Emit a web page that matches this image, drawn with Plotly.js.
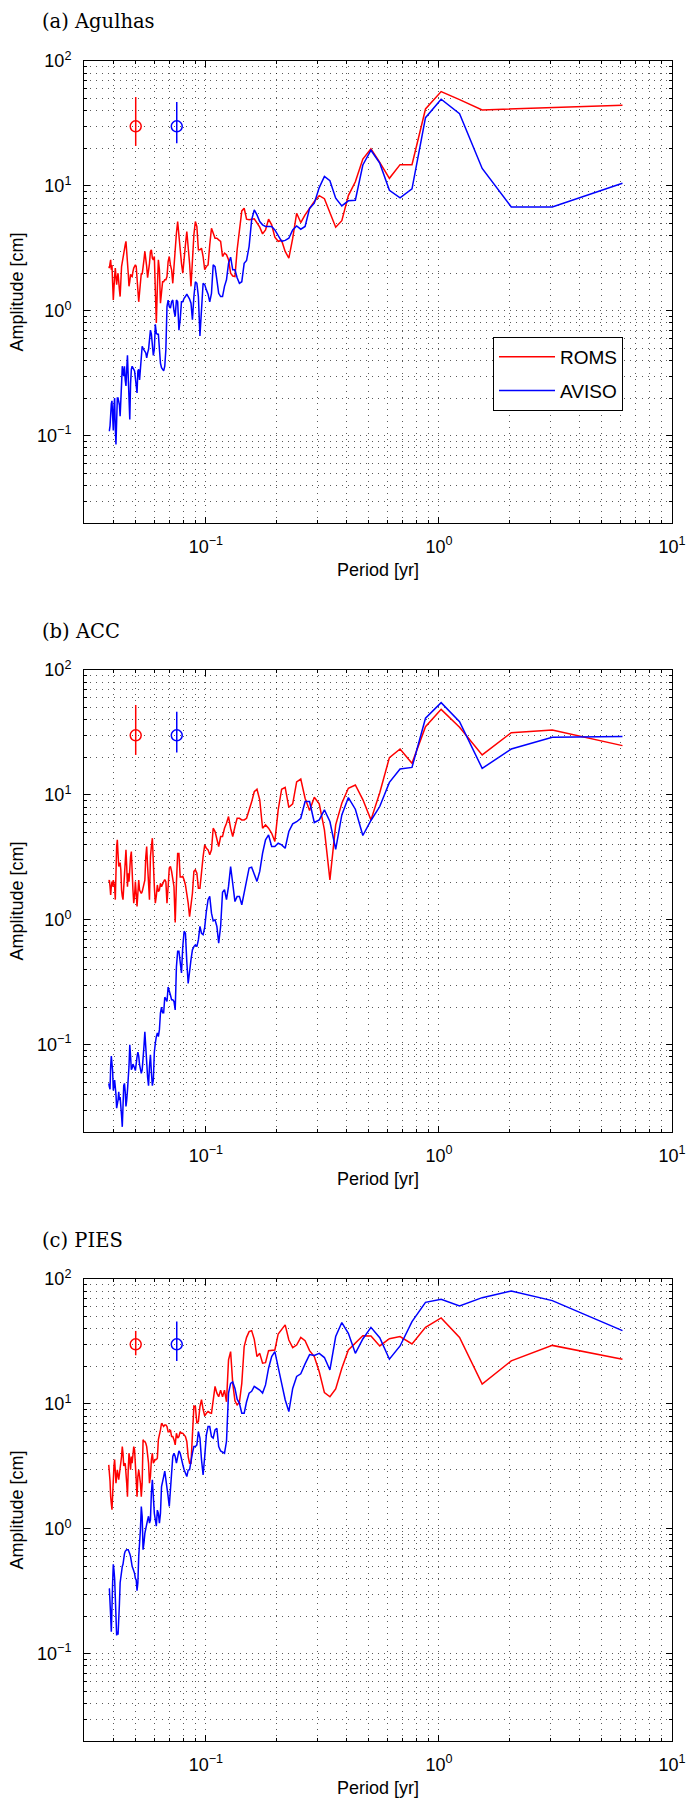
<!DOCTYPE html>
<html><head><meta charset="utf-8">
<script src="https://cdn.plot.ly/plotly-3.0.1.min.js"></script>
<style>body{margin:0;background:#fff}#chart{width:696px;height:1803px}</style>
</head><body><div id="chart"></div>
<script>
// Period [yr] of each spectral estimate
const periods = [6.13,3.065,2.043,1.533,1.226,1.022,0.8757,0.7663,0.6811,0.613,
0.5573,0.5108,0.4715,0.4379,0.4087,0.3831,0.3606,0.3406,0.3226,0.3065,
0.2919,0.2786,0.2665,0.2554,0.2452,0.2358,0.227,0.2189,0.2114,0.2043,
0.1977,0.1916,0.1858,0.1803,0.1751,0.1703,0.1657,0.1613,0.1572,0.1533,
0.1495,0.146,0.1426,0.1393,0.1362,0.1333,0.1304,0.1277,0.1251,0.1226,
0.1202,0.1179,0.1157,0.1135,0.1115,0.1095,0.1075,0.1057,0.1039,0.1022,
0.1005,0.09887,0.0973,0.09578,0.09431,0.09288,0.09149,0.09015,0.08884,0.08757,
0.08634,0.08514,0.08397,0.08284,0.08173,0.08066,0.07961,0.07859,0.07759,0.07663,
0.07568,0.07476,0.07386,0.07298,0.07212,0.07128,0.07046,0.06966,0.06888,0.06811,
0.06736,0.06663,0.06591,0.06521,0.06453,0.06385,0.0632,0.06255,0.06192,0.0613,
0.06069,0.0601,0.05951,0.05894,0.05838,0.05783,0.05729,0.05676,0.05624,0.05573,
0.05523,0.05473,0.05425,0.05377,0.0533,0.05284,0.05239,0.05195,0.05151,0.05108,
0.05066,0.05025,0.04984,0.04944,0.04904,0.04865,0.04827,0.04789,0.04752,0.04715,
0.04679,0.04644,0.04609,0.04575,0.04541,0.04507,0.04474,0.04442,0.0441,0.04379,
0.04348,0.04317,0.04287,0.04257,0.04228,0.04199,0.0417,0.04142,0.04114,0.04087,
0.0406,0.04033,0.04007,0.03981,0.03955,0.03929,0.03904,0.0388,0.03855,0.03831];

// (a) Agulhas
const agulhasROMS = [44.2,42.4,41.3,40.6,49,56.9,41.3,14.8,14.8,11.5,15.4,19.8,16.4,10.8,8.36,5.27,4.67,6.23,7.9,8.36,7.5,6.6,5.86,5.09,
6.04,3.8,2.64,2.99,3.66,3.6,3.88,4.88,5.41,4.44,4.13,4.67,5.02,5.45,5.41,5.35,5.41,6.62,6.31,4.44,3.08,1.88,1.9,2.0,2.56,2.81,
2.9,2.72,3.6,3.7,3.81,3.81,4.18,4.58,3.37,2.33,2.26,2.13,2.72,3.17,3.08,3.08,4.73,5.19,4.06,2.26,1.57,2.4,3.08,4.31,3.37,2.48,2.0,2.4,3.08,4.18,
5.19,4.18,3.08,1.88,1.66,2.13,2.33,2.72,2.48,1.88,1.77,1.77,1.71,1.71,1.47,1.15,2.13,2.56,1.52,0.8,1.47,2.72,2.56,2.64,3.08,2.99,2.4,2.13,1.84,2.26,
2.72,2.99,2.56,2.13,1.96,2.0,1.66,1.3,1.18,1.47,1.88,2.26,2.33,2.26,2.2,2.06,1.88,1.9,1.96,1.71,1.57,2.0,2.56,2.9,3.6,3.37,3.08,2.99,2.81,2.48,
2.26,1.71,1.3,1.47,1.84,2.0,1.84,1.62,1.88,2.2,1.88,1.47,1.22,1.66,2.33,2.13,2.56,2.4,2.2,2.26];
const agulhasAVISO = [10.5,6.79,6.79,13.8,37.9,49.4,35.2,9.46,8.02,9.23,15.2,19.3,14.7,7.68,7.6,6.92,7.97,11.0,11.9,9.69,7.27,6.6,4.73,
4.5,4.78,4.44,3.81,3.66,3.6,3.98,4.44,4.73,4.73,4.73,4.88,5.19,5.86,6.42,5.35,3.28,2.53,2.4,1.71,1.66,1.84,2.13,2.13,2.69,2.4,1.77,
1.57,1.3,1.3,1.38,1.77,2.26,2.33,1.38,1.18,1.36,1.47,1.62,1.66,1.08,0.63,1.3,1.66,1.71,1.3,0.85,1.15,1.24,1.3,1.36,1.3,1.26,1.18,1.18,0.85,0.7,
1.18,1.22,0.9,1.0,1.22,1.18,1.05,1.08,1.22,1.08,0.49,0.36,0.33,0.34,0.35,0.38,0.55,0.65,0.65,0.66,0.78,0.49,0.44,0.55,0.65,0.7,0.55,0.49,0.46,0.42,
0.46,0.47,0.49,0.5,0.52,0.4,0.34,0.28,0.34,0.33,0.22,0.26,0.29,0.33,0.34,0.35,0.36,0.34,0.26,0.135,0.22,0.38,0.44,0.34,0.25,0.28,0.36,0.3,0.34,0.36,
0.26,0.185,0.143,0.176,0.2,0.2,0.2,0.135,0.085,0.115,0.2,0.17,0.11,0.143,0.19,0.18,0.13,0.12,0.11,0.11];

// (b) ACC
const accROMS = [24.8,33.1,31.5,20.9,34.8,48.4,35.2,17.9,23.3,19.9,10.4,6.31,9.18,12.0,11.3,8.58,5.75,2.09,5.25,8.47,9.57,7.49,9.4,13.4,
12.7,8.47,7.96,11.5,11.1,7.59,4.24,4.93,5.41,5.75,5.41,9.12,11.1,10.6,8.8,7.59,6.5,6.3,6.3,6.5,6.5,5.58,4.64,5.41,6.71,5.93,
5.41,4.64,4.64,3.86,4.37,5.08,5.41,3.63,3.31,3.63,3.74,3.98,3.2,2.51,1.79,1.79,2.36,2.51,2.44,1.63,1.28,1.06,1.36,1.68,1.9,2.08,2.23,2.2,2.2,3.4,
3.4,1.96,0.95,1.84,2.2,2.44,2.67,2.6,1.84,1.36,2.02,2.1,2.02,1.9,1.84,1.96,1.73,1.68,1.9,1.55,1.36,1.84,2.67,4.5,3.86,3.2,1.45,1.84,2.67,3.86,
3.2,2.08,1.9,1.73,1.68,1.63,1.68,1.73,2.08,1.55,1.28,1.63,2.02,1.55,1.36,1.73,2.36,3.52,3.2,2.08,2.02,2.36,1.84,2.67,3.63,2.87,2.08,1.58,1.45,1.55,
1.73,2.51,2.87,2.75,2.67,3.4,4.37,3.86,1.96,1.45,1.84,2.02,2.08,1.84,2.02,1.84,1.58,1.84,2.08,2.02];
const accAVISO = [29.3,28.9,23.3,16.3,38.6,54.8,41.1,16.6,16.1,12.6,8.07,6.24,4.73,7.68,9.52,6.92,3.67,6.12,7.59,6.31,6.01,8.85,8.85,6.5,
6.1,5.86,5.09,3.74,3.98,4.1,3.86,3.86,4.78,4.37,3.41,2.44,2.03,2.36,2.64,2.6,2.09,1.66,1.32,1.54,1.54,1.4,2.09,2.67,1.85,1.45,
1.74,1.66,0.885,0.65,0.885,1.0,0.98,1.13,1.54,1.45,1.17,0.87,0.76,0.78,0.885,0.69,0.61,0.63,0.61,0.575,0.48,0.4,0.31,0.46,0.78,0.81,0.61,0.375,0.46,0.56,
0.56,0.42,0.19,0.222,0.229,0.229,0.25,0.275,0.29,0.222,0.229,0.24,0.18,0.18,0.2,0.18,0.132,0.116,0.124,0.116,0.103,0.087,0.052,0.047,0.06,0.083,0.067,0.047,0.055,0.071,
0.103,0.127,0.097,0.076,0.063,0.059,0.063,0.069,0.081,0.087,0.08,0.067,0.062,0.065,0.069,0.07,0.065,0.063,0.081,0.1,0.067,0.048,0.043,0.036,0.032,0.042,0.049,0.047,0.029,0.022,
0.027,0.034,0.038,0.036,0.042,0.036,0.033,0.031,0.04,0.049,0.052,0.047,0.043,0.061,0.08,0.081,0.067,0.044,0.046,0.049];

// (c) PIES
const piesROMS = [22.8,29.4,22.1,14.4,34.1,48.8,41.0,30.2,34.6,33.3,29.1,35.0,35.2,30.6,27.0,19.3,13.2,11.4,12.3,18.1,23.9,26.7,32.1,34.1,
29.6,28.2,32.5,42.9,39.1,36.3,27.0,27.0,26.7,21.4,21.2,25.4,23.9,32.9,38.6,37.9,34.1,28.8,14.6,10.3,9.8,10.6,14.6,26.2,22.5,10.4,
12.9,11.4,12.9,11.4,12.2,13.8,10.1,8.42,8.5,8.69,8.42,8.02,9.06,10.8,9.52,7.23,7.0,9.52,9.6,6.19,3.35,3.35,3.79,5.0,5.48,5.65,5.82,5.82,5.99,5.48,
5.33,5.82,4.7,5.17,5.48,5.48,6.19,5.99,5.99,6.59,6.79,6.79,6.59,6.79,7.0,6.19,5.48,5.17,3.68,3.58,3.58,3.4,3.35,4.03,3.58,2.62,2.32,3.35,4.29,4.55,
4.84,5.0,5.0,5.17,2.32,1.81,2.32,2.62,2.97,2.62,1.81,2.47,3.35,4.29,4.55,3.79,3.35,3.79,2.97,3.58,4.03,2.97,1.81,2.32,2.97,3.35,3.27,3.18,4.03,4.55,
3.79,3.4,3.0,2.85,2.47,2.7,2.97,2.6,2.32,2.9,3.58,3.18,2.4,1.6,1.42,1.6,1.81,2.4,3.0,3.25];
const piesAVISO = [38.6,67.1,80.2,70.9,60.8,68.8,65.0,45.6,29.1,22.8,33.9,41.0,33.1,25.4,36.7,44.8,34.6,18.7,23.5,25.4,24.4,24.8,20.9,17.4,
16.6,13.3,8.69,10.8,14.6,19.9,26.2,23.9,19.3,14.2,12.2,12.9,13.3,13.8,12.6,12.2,10.4,8.42,8.42,10.1,10.9,13.3,15.0,14.6,12.2,5.0,
4.03,4.1,4.2,4.55,6.38,6.19,5.33,5.48,6.59,6.59,5.65,3.79,2.7,3.58,5.33,5.99,4.7,4.55,4.55,4.03,3.35,2.97,2.95,2.62,2.8,2.97,3.27,3.68,4.03,4.2,
3.79,3.35,3.79,4.03,3.79,2.76,2.05,1.51,1.81,2.18,2.32,2.9,2.62,2.32,2.18,1.33,1.11,1.33,1.41,1.05,1.18,1.33,1.81,2.47,1.94,1.18,1.11,1.26,1.18,1.08,
1.02,0.92,0.77,0.68,1.26,1.51,0.99,0.77,0.6,0.37,0.32,0.39,0.40,0.44,0.47,0.48,0.5,
0.58,0.6,0.63,0.66,0.68,0.68,0.68,0.67,0.66,0.63,0.56,0.52,0.5,0.46,0.42,0.37,0.25,0.17,0.142,0.15,0.14,0.2,0.33,0.40,0.47,0.52,0.37,0.2,0.15,0.2,0.31,0.33,0.33];

// Error-bar markers (periods, central value, upper/lower extents)
const errPeriods = [0.05, 0.075];
const errCenter = [30, 30];
const agulhasErrUp = [21.5, 17];
const agulhasErrDown = [9.1, 8];
const accErrUp = [22.5, 16.4];
const accErrDown = [9.1, 8.1];
const piesErrUp = [8.4, 15.6];
const piesErrDown = [5.5, 7.9];

const panelTitles = ['(a) Agulhas', '(b) ACC', '(c) PIES'];
const seriesNames = ['ROMS', 'AVISO'];
const xTickVals = [0.1, 1, 10];
const xTickText = ['10<sup>\u22121</sup>', '10<sup>0</sup>', '10<sup>1</sup>'];
const yTickVals = [0.1, 1, 10, 100];
const yTickText = ['10<sup>\u22121</sup>', '10<sup>0</sup>', '10<sup>1</sup>', '10<sup>2</sup>'];

const panels = [
  {roms: agulhasROMS, aviso: agulhasAVISO, up: agulhasErrUp, down: agulhasErrDown},
  {roms: accROMS, aviso: accAVISO, up: accErrUp, down: accErrDown},
  {roms: piesROMS, aviso: piesAVISO, up: piesErrUp, down: piesErrDown}
];

const RED = '#ff0000', BLUE = '#0000ff';
const W = 696, H = 1803;
const plotTops = [61, 670, 1279];
const plotH = 462;
const xL = 84, xR = 672;

function minorVals(decades) {
  const out = [];
  decades.forEach(d => { for (let m = 2; m <= 9; m++) out.push(+(m * d).toPrecision(3)); });
  return out;
}
const xMinor = [0.03].concat(minorVals([0.01, 0.1, 1])).filter(v => v >= 0.03 && v <= 10);
const yMinor = minorVals([0.01, 0.1, 1, 10]).filter(v => v >= 0.02 && v <= 100);

const gridColor = 'rgba(0,0,0,0.65)';
const gridDash = '1px,5px';

const traces = [];
const layout = {
  width: W, height: H,
  margin: {l: 0, r: 0, t: 0, b: 0},
  paper_bgcolor: '#fff', plot_bgcolor: '#fff',
  font: {family: 'Liberation Sans, Arial, sans-serif', size: 18, color: '#000'},
  showlegend: true,
  legend: {
    x: 493 / W, y: 1 - 337 / H, xanchor: 'left', yanchor: 'top',
    bordercolor: '#000', borderwidth: 1, bgcolor: '#fff',
    font: {size: 19}, tracegroupgap: 6, itemwidth: 56
  },
  annotations: []
};

panels.forEach((p, i) => {
  const n = i === 0 ? '' : String(i + 1);
  const xa = 'x' + n, ya = 'y' + n;
  traces.push({x: periods, y: p.roms, xaxis: xa, yaxis: ya, type: 'scatter', mode: 'lines',
    name: seriesNames[0], legendgroup: 'r', showlegend: i === 0, line: {color: RED, width: 1.5}});
  traces.push({x: periods, y: p.aviso, xaxis: xa, yaxis: ya, type: 'scatter', mode: 'lines',
    name: seriesNames[1], legendgroup: 'b', showlegend: i === 0, line: {color: BLUE, width: 1.5}});
  [RED, BLUE].forEach((c, j) => {
    traces.push({x: [errPeriods[j]], y: [errCenter[j]], xaxis: xa, yaxis: ya, type: 'scatter', mode: 'markers',
      showlegend: false, marker: {symbol: 'circle-open', size: 11, color: c, line: {color: c, width: 1.5}},
      error_y: {type: 'data', symmetric: false, array: [p.up[j]], arrayminus: [p.down[j]], width: 0, thickness: 1.5, color: c}});
  });
  const top = plotTops[i];
  layout['xaxis' + n] = {
    type: 'log', range: [Math.log10(0.03), 1], domain: [xL / W, xR / W], anchor: ya,
    tickmode: 'array', tickvals: xTickVals, ticktext: xTickText,
    ticks: 'inside', ticklen: 6, tickwidth: 1, tickcolor: '#000',
    showline: true, linecolor: '#000', linewidth: 1, mirror: 'ticks',
    showgrid: true, gridcolor: gridColor, griddash: gridDash, gridwidth: 1,
    minor: {tickmode: 'array', tickvals: xMinor, ticks: 'inside', ticklen: 3, tickcolor: '#000',
      showgrid: true, gridcolor: gridColor, griddash: gridDash, gridwidth: 1},
    tickfont: {size: 18}, ticklabelstandoff: 7,
    title: {text: 'Period [yr]', font: {size: 18}, standoff: 7},
    zeroline: false, fixedrange: true
  };
  layout['yaxis' + n] = {
    type: 'log', range: [Math.log10(0.02), 2],
    domain: [1 - (top + plotH) / H, 1 - top / H], anchor: xa,
    tickmode: 'array', tickvals: yTickVals, ticktext: yTickText,
    ticks: 'inside', ticklen: 6, tickwidth: 1, tickcolor: '#000',
    showline: true, linecolor: '#000', linewidth: 1, mirror: 'ticks',
    showgrid: true, gridcolor: gridColor, griddash: gridDash, gridwidth: 1,
    minor: {tickmode: 'array', tickvals: yMinor, ticks: 'inside', ticklen: 3, tickcolor: '#000',
      showgrid: true, gridcolor: gridColor, griddash: gridDash, gridwidth: 1},
    tickfont: {size: 18}, ticklabelstandoff: 8,
    title: {text: 'Amplitude [cm]', font: {size: 18}, standoff: 8},
    zeroline: false, fixedrange: true
  };
  layout.annotations.push({
    text: panelTitles[i], xref: 'paper', yref: 'paper',
    x: 40 / W, y: 1 - (top - 39) / H, xanchor: 'left', yanchor: 'middle',
    showarrow: false, font: {family: 'DejaVu Serif, serif', size: 19.5, color: '#000'}
  });
});

Plotly.newPlot('chart', traces, layout, {staticPlot: true, displayModeBar: false});
</script>
</body></html>
